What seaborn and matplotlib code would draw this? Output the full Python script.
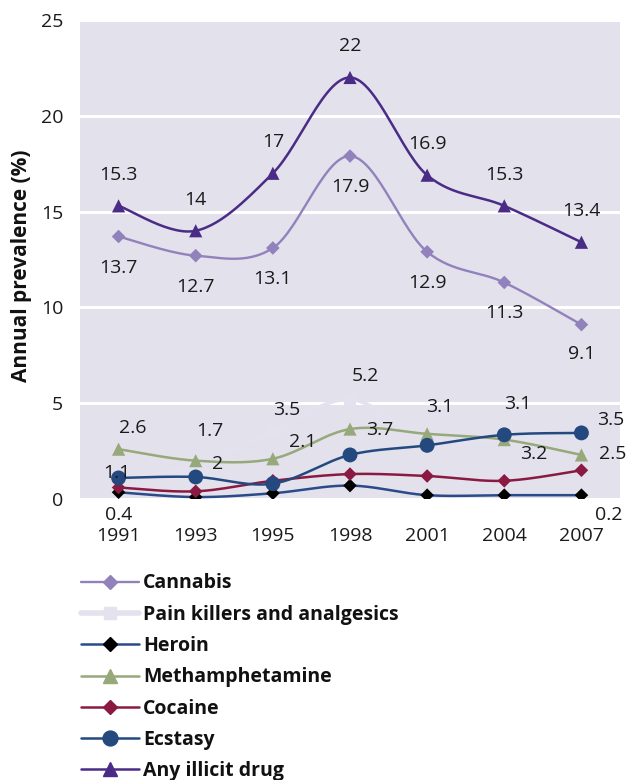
import numpy as np
import pandas as pd
import matplotlib
matplotlib.use("Agg")
import matplotlib.pyplot as plt
import seaborn as sns
from matplotlib.lines import Line2D

# ---------------- data ----------------
years = ["1991", "1993", "1995", "1998", "2001", "2004", "2007"]
cannabis = [13.7, 12.7, 13.1, 17.9, 12.9, 11.3, 9.1]
pain_killers = [1.1, 1.7, 3.5, 5.2, 3.1, 3.1, 3.5]
heroin = [0.35, 0.1, 0.3, 0.7, 0.2, 0.2, 0.2]
methamphetamine = [2.6, 2.0, 2.1, 3.65, 3.4, 3.1, 2.3]
cocaine = [0.6, 0.4, 0.95, 1.3, 1.2, 0.95, 1.5]
ecstasy = [1.1, 1.15, 0.8, 2.3, 2.8, 3.35, 3.45]
any_drug = [15.3, 14.0, 17.0, 22.0, 16.9, 15.3, 13.4]

cannabis_labels = ["13.7", "12.7", "13.1", "17.9", "12.9", "11.3", "9.1"]
any_labels = ["15.3", "14", "17", "22", "16.9", "15.3", "13.4"]
meth_labels = ["2.6", "2", "2.1", "3.7", None, "3.2", "2.5"]
pain_labels = [None, "1.7", "3.5", "5.2", "3.1", "3.1", None]
ecstasy_labels = ["1.1", None, None, None, None, None, "3.5"]
heroin_labels = ["0.4", None, None, None, None, None, "0.2"]

y_ticks = [0, 5, 10, 15, 20, 25]

# ---------------- style ----------------
BG = "#E3E1EC"
sns.set_theme(style="darkgrid")
plt.rcParams["font.family"] = ["Open Sans", "DejaVu Sans"]

fig = plt.figure(figsize=(6.38, 7.8), dpi=100)
ax = fig.add_axes([80 / 638, 1 - 499 / 780, 540 / 638, 479 / 780])
ax.set_facecolor(BG)


def smooth(vals, n=30):
    pts = np.column_stack([np.arange(len(vals)), np.asarray(vals, float)])
    out = []
    m = len(pts)
    for i in range(m - 1):
        p0 = pts[i - 1] if i > 0 else pts[i]
        p1, p2 = pts[i], pts[i + 1]
        p3 = pts[i + 2] if i + 2 < m else pts[i + 1]
        c1 = p1 + (p2 - p0) / 6
        c2 = p2 - (p3 - p1) / 6
        t = np.linspace(0, 1, n, endpoint=(i == m - 2))[:, None]
        out.append((1 - t) ** 3 * p1 + 3 * (1 - t) ** 2 * t * c1
                   + 3 * (1 - t) * t ** 2 * c2 + t ** 3 * p2)
    return np.vstack(out)


series = [
    # name, values, line color, lw, marker, marker color, marker size (pt^2)
    ("Cannabis", cannabis, "#9282BC", 1.7, "D", "#9282BC", 48),
    ("Pain killers and analgesics", pain_killers, "#E4E2EE", 2.6, "s", "#E4E2EE", 70),
    ("Heroin", heroin, "#2B4A8A", 1.8, "D", "#000000", 48),
    ("Methamphetamine", methamphetamine, "#97A87A", 1.8, "^", "#97A87A", 90),
    ("Cocaine", cocaine, "#8A1A42", 1.8, "D", "#8A1A42", 48),
    ("Ecstasy", ecstasy, "#24497F", 1.8, "o", "#24497F", 115),
    ("Any illicit drug", any_drug, "#4A2C86", 1.8, "^", "#4A2C86", 90),
]

z = 2
for name, vals, lc, lw, mk, mc, ms in series:
    sm = smooth(vals)
    sns.lineplot(x=sm[:, 0], y=sm[:, 1], sort=False, estimator=None,
                 color=lc, linewidth=lw, ax=ax, zorder=z)
    sns.scatterplot(x=np.arange(len(vals)), y=vals, marker=mk, s=ms,
                    color=mc, edgecolor="none", linewidth=0, ax=ax, zorder=z + 0.5)
    z += 1

# ---------------- data labels ----------------
PX = 0.72  # points per pixel at 100 dpi


def put_labels(vals, labels, offsets):
    for i, (v, lab) in enumerate(zip(vals, labels)):
        if lab is None:
            continue
        dx, dy = offsets[i]
        ax.annotate(lab, (i, v), xytext=(dx * PX, -dy * PX), textcoords="offset points",
                    ha="center", va="center", fontsize=14, color="#1a1a1a", zorder=20)


put_labels(any_drug, any_labels, [(0, -31)] * 7)
put_labels(cannabis, cannabis_labels, [(0, 31)] * 6 + [(0, 29)])
put_labels(methamphetamine, meth_labels,
           [(14, -21), (22, 3), (30, -17), (30, 1), (0, 0), (29, 14), (31, -1)])
put_labels(pain_killers, pain_labels,
           [(0, 0), (14, -35), (14, -22), (15, -23), (13, -33), (13, -36), (0, 0)])
put_labels(ecstasy, ecstasy_labels, [(-2, -5)] + [(0, 0)] * 5 + [(29, -13)])
put_labels(heroin, heroin_labels, [(0, 23)] + [(0, 0)] * 5 + [(27, 20)])

# ---------------- axes ----------------
ax.set_xlim(-0.5, len(years) - 0.5)
ax.set_ylim(0, 25)
ax.set_xticks(range(len(years)))
ax.set_xticklabels(years)
ax.set_yticks(y_ticks)
ax.set_yticklabels([str(t) for t in y_ticks])
ax.tick_params(axis="x", length=0, pad=20.5, labelsize=14, labelcolor="#1a1a1a")
ax.tick_params(axis="y", length=0, pad=12, labelsize=14, labelcolor="#1a1a1a")
ax.grid(axis="y", color="white", linewidth=2.2)
ax.grid(axis="x", visible=False)
for sp in ax.spines.values():
    sp.set_visible(False)
ax.set_xlabel("")
ax.set_ylabel("")
fig.text(22 / 638, 1 - 266 / 780, "Annual prevalence (%)", rotation=90,
         ha="center", va="center", fontsize=15, fontweight="bold", color="#111111")

# ---------------- legend ----------------
handles = []
for name, vals, lc, lw, mk, mc, ms in series:
    lw_leg = 4.0 if mk == "s" else lw
    handles.append(Line2D([0], [0], color=lc, linewidth=lw_leg, marker=mk,
                          markersize=np.sqrt(ms), markerfacecolor=mc,
                          markeredgecolor=mc, label=name))
leg = fig.legend(handles=handles, loc="upper left",
                 bbox_to_anchor=(81 / 638, 1 - 573.5 / 780), frameon=False,
                 handlelength=3.0, handletextpad=0.2, labelspacing=0.58,
                 borderpad=0, borderaxespad=0,
                 prop={"size": 14, "weight": "bold"})
for t in leg.get_texts():
    t.set_color("#111111")

fig.savefig("out.png", dpi=100, facecolor="white")
